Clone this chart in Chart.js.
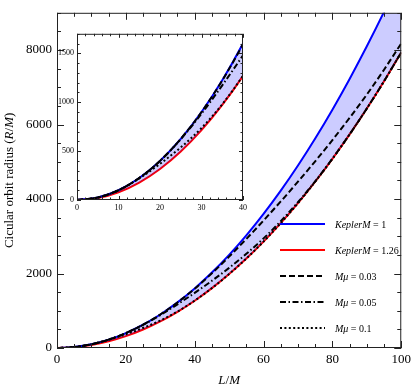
<!DOCTYPE html>
<html>
<head>
<title></title>
<style>
  body { margin:0; background:#fff; }
  #wrap { position:relative; width:415px; height:391px; }
  #main { position:absolute; left:0; top:0; width:415px; height:391px; }
  #inset { position:absolute; left:50px; top:26px; width:200px; height:192px; }
</style>
</head>
<body>
<div id="wrap">
  <div id="main"><canvas id="mainChart"></canvas></div>
  <div id="inset"><canvas id="insetChart"></canvas></div>
</div>
<script src="https://cdn.jsdelivr.net/npm/chart.js@4/dist/chart.umd.min.js"></script>
<script>
// angular momentum L/M
var L_VALUES = [0,5,10,15,20,25,30,35,40,45,50,55,60,65,70,75,80,85,90,95,100];
// circular orbit radius R/M for each curve
var KEPLER_1   = [0,25,100,225,400,625,900,1225,1600,2025,2500,3025,3600,4225,4900,5625,6400,7225,8100,9025,10000];
var KEPLER_126 = [0,19.8,79.4,178.6,317.5,496,714.3,972.2,1269.8,1607.1,1984.1,2400.8,2857.1,3353.2,3888.9,4464.3,5079.4,5734.1,6428.6,7162.7,7936.5];
var MU_003     = [0,25,100,225,400,625,900,1223,1593,2006,2453,2928,3423,3935,4466,5013,5583,6180,6805,7472,8177];
var MU_005     = [0,25,100,225,400,621.5,883,1173,1480,1805,2152,2528,2943,3405,3916,4476,5084,5736,6430,7163,7937];
var MU_01      = [0,25,100,221,370,538,736,979,1271,1607,1984,2401,2857,3353,3889,4464,5079,5734,6429,7163,7937];

var LEGEND_NAMES  = ['KeplerM', 'KeplerM', 'M\u03bc', 'M\u03bc', 'M\u03bc'];
var LEGEND_VALUES = ['1', '1.26', '0.03', '0.05', '0.1'];

// tick labels
var MAIN_X_TICKS  = [0, 20, 40, 60, 80, 100];
var MAIN_Y_TICKS  = [0, 2000, 4000, 6000, 8000];
var INSET_X_TICKS = [0, 10, 20, 30, 40];
var INSET_Y_TICKS = [0, 500, 1000, 1500];

var SERIF = "'Liberation Serif', 'DejaVu Serif', serif";

function pts(arr) {
  return L_VALUES.map(function (l, i) { return { x: l, y: arr[i] }; });
}

function makeDatasets() {
  var common = { pointRadius: 0, borderWidth: 2, cubicInterpolationMode: 'monotone', fill: false };
  var sets = [
    { data: pts(KEPLER_1), borderColor: '#0000ff', fill: '+1', backgroundColor: 'rgba(0,0,255,0.2)', order: 3 },
    { data: pts(KEPLER_126), borderColor: '#ff0000', order: 3 },
    { data: pts(MU_003), borderColor: '#000', borderDash: [6, 3], order: 1 },
    { data: pts(MU_005), borderColor: '#000', borderDash: [6, 2.5, 1.5, 2.5], order: 1 },
    { data: pts(MU_01), borderColor: '#000', borderDash: [2, 2.4], order: 1 }
  ];
  return sets.map(function (s, i) {
    s.label = LEGEND_NAMES[i] + ' = ' + LEGEND_VALUES[i];
    return Object.assign({}, common, s);
  });
}

// draws a row of text pieces, some italic
function drawParts(ctx, parts, x, y, size, align) {
  var total = 0;
  parts.forEach(function (p) {
    ctx.font = (p[1] ? 'italic ' : '') + size + 'px ' + SERIF;
    total += ctx.measureText(p[0]).width;
  });
  var cx = align === 'center' ? x - total / 2 : x;
  ctx.textAlign = 'left';
  ctx.textBaseline = 'middle';
  parts.forEach(function (p) {
    ctx.font = (p[1] ? 'italic ' : '') + size + 'px ' + SERIF;
    ctx.fillText(p[0], cx, y);
    cx += ctx.measureText(p[0]).width;
  });
}

// Mathematica-like frame with inward ticks on all four sides
function framePlugin(o) {
  return {
    id: 'frame',
    afterDatasetsDraw: function (chart) {
      var a = chart.chartArea, ctx = chart.ctx, xs = chart.scales.x, ys = chart.scales.y;
      ctx.save();
      ctx.strokeStyle = '#222';
      ctx.lineWidth = 1;
      ctx.setLineDash([]);
      ctx.strokeRect(a.left + 0.5, a.top + 0.5, a.right - a.left - 1, a.bottom - a.top - 1);
      ctx.beginPath();
      var v, len, p;
      for (v = xs.min; v <= xs.max + 1e-9; v += o.xMinor) {
        len = Math.abs(v / o.xMajor - Math.round(v / o.xMajor)) < 1e-6 ? o.major : o.minor;
        p = Math.round(xs.getPixelForValue(v)) + 0.5;
        ctx.moveTo(p, a.bottom); ctx.lineTo(p, a.bottom - len);
        ctx.moveTo(p, a.top); ctx.lineTo(p, a.top + len);
      }
      for (v = ys.min; v <= ys.max + 1e-9; v += o.yMinor) {
        len = Math.abs(v / o.yMajor - Math.round(v / o.yMajor)) < 1e-6 ? o.major : o.minor;
        p = Math.round(ys.getPixelForValue(v)) + 0.5;
        ctx.moveTo(a.left, p); ctx.lineTo(a.left + len, p);
        ctx.moveTo(a.right, p); ctx.lineTo(a.right - len, p);
      }
      ctx.stroke();
      ctx.restore();
    }
  };
}

var mainDecor = {
  id: 'mainDecor',
  afterDraw: function (chart) {
    var ctx = chart.ctx, a = chart.chartArea;
    ctx.save();
    ctx.fillStyle = '#000';
    // axis titles
    drawParts(ctx, [['L', true], ['/', false], ['M', true]], (a.left + a.right) / 2, 381, 13, 'center');
    ctx.translate(10, (a.top + a.bottom) / 2);
    ctx.rotate(-Math.PI / 2);
    drawParts(ctx, [['Cicular orbit radius (', false], ['R', true], ['/', false], ['M', true], [')', false]], 0, 0, 13, 'center');
    ctx.restore();

    // legend
    ctx.save();
    var ds = chart.data.datasets;
    for (var i = 0; i < ds.length; i++) {
      var y = 224 + i * 26;
      ctx.beginPath();
      ctx.strokeStyle = ds[i].borderColor;
      ctx.lineWidth = 2;
      ctx.setLineDash(ds[i].borderDash || []);
      ctx.moveTo(280, y);
      ctx.lineTo(325, y);
      ctx.stroke();
      ctx.fillStyle = '#000';
      drawParts(ctx, [[LEGEND_NAMES[i], true], [' = ' + LEGEND_VALUES[i], false]], 335, y + 1, 10, 'left');
    }
    ctx.restore();
  }
};

function axisOpts(min, max, tickValues, size, pad, fitFn) {
  return {
    type: 'linear', min: min, max: max,
    grid: { display: false, drawTicks: false },
    border: { display: false },
    ticks: {
      color: '#000', padding: pad, maxRotation: 0, autoSkip: false,
      font: { family: SERIF, size: size },
      callback: function (v) { return String(v); }
    },
    afterBuildTicks: function (s) {
      s.ticks = tickValues.map(function (v) { return { value: v }; });
    },
    afterFit: fitFn
  };
}

new Chart(document.getElementById('mainChart').getContext('2d'), {
  type: 'line',
  data: { datasets: makeDatasets() },
  options: {
    responsive: true,
    maintainAspectRatio: false,
    animation: false,
    layout: { padding: { top: 1, right: 12, left: 0, bottom: 0 } },
    plugins: { legend: { display: false }, tooltip: { enabled: false } },
    scales: {
      x: axisOpts(0, 100, MAIN_X_TICKS, 13, 4, function (s) { s.height = 43; }),
      y: axisOpts(0, 9000, MAIN_Y_TICKS, 13, 5, function (s) { s.width = 57; })
    }
  },
  plugins: [framePlugin({ xMinor: 5, xMajor: 20, yMinor: 500, yMajor: 2000, major: 7, minor: 4 }), mainDecor]
});

new Chart(document.getElementById('insetChart').getContext('2d'), {
  type: 'line',
  data: { datasets: makeDatasets() },
  options: {
    responsive: true,
    maintainAspectRatio: false,
    animation: false,
    layout: { padding: { top: 6, right: 5, left: 0, bottom: 0 } },
    plugins: { legend: { display: false }, tooltip: { enabled: false } },
    scales: {
      x: axisOpts(0, 40, INSET_X_TICKS, 8, 3, function (s) { s.height = 18; }),
      y: axisOpts(0, 1700, INSET_Y_TICKS, 8, 3, function (s) { s.width = 27; })
    }
  },
  plugins: [framePlugin({ xMinor: 2, xMajor: 10, yMinor: 100, yMajor: 500, major: 4, minor: 2.5 })]
});
</script>
</body>
</html>
